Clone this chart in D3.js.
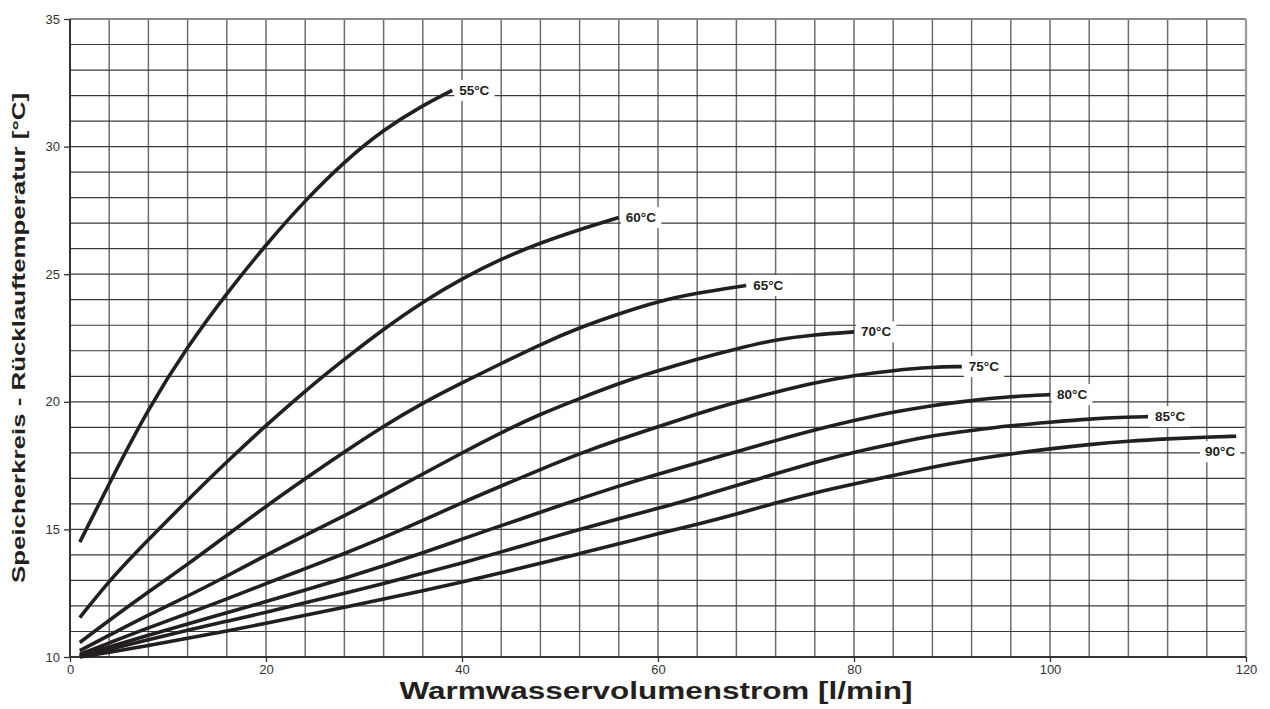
<!DOCTYPE html>
<html>
<head>
<meta charset="utf-8">
<script src="https://cdn.jsdelivr.net/npm/d3@7"></script>
<style>
  html, body { margin: 0; padding: 0; background: #fff; }
  svg { display: block; font-family: "Liberation Sans", Arial, sans-serif; }
</style>
</head>
<body>
<svg id="chart" width="1270" height="709"></svg>
<script>
// ---------------- data ----------------
const xTicks = [0, 20, 40, 60, 80, 100, 120];
const yTicks = [10, 15, 20, 25, 30, 35];
const seriesNames = ["55°C", "60°C", "65°C", "70°C", "75°C", "80°C", "85°C", "90°C"];

const x55 = [1, 4, 8, 12, 16, 20, 24, 28, 32, 36, 39];
const t55 = [14.5, 16.8, 19.75, 22.17, 24.26, 26.16, 27.9, 29.42, 30.67, 31.62, 32.2];

const x60 = [1, 4, 8, 12, 16, 20, 24, 28, 32, 36, 40, 44, 48, 52, 56];
const t60 = [11.54, 13.0, 14.6, 16.15, 17.65, 19.08, 20.43, 21.67, 22.85, 23.92, 24.83, 25.6, 26.23, 26.75, 27.22];

const x65 = [1, 4, 8, 12, 16, 20, 24, 28, 32, 36, 40, 44, 48, 52, 56, 60, 64, 69];
const t65 = [10.57, 11.44, 12.55, 13.63, 14.77, 15.91, 16.99, 18.04, 19.05, 19.96, 20.75, 21.5, 22.25, 22.91, 23.45, 23.94, 24.27, 24.56];

const x70 = [1, 4, 8, 12, 16, 20, 24, 28, 32, 36, 40, 44, 48, 52, 56, 60, 64, 68, 72, 76, 80];
const t70 = [10.25, 10.85, 11.65, 12.38, 13.17, 13.99, 14.77, 15.53, 16.34, 17.17, 18.0, 18.8, 19.52, 20.13, 20.72, 21.22, 21.68, 22.08, 22.44, 22.63, 22.74];

const x75 = [1, 4, 8, 12, 16, 20, 24, 28, 32, 36, 40, 44, 48, 52, 56, 60, 64, 68, 72, 76, 80, 84, 88, 91];
const t75 = [10.1, 10.55, 11.15, 11.7, 12.27, 12.88, 13.46, 14.05, 14.68, 15.35, 16.05, 16.7, 17.35, 17.97, 18.52, 19.02, 19.53, 19.99, 20.38, 20.75, 21.04, 21.23, 21.36, 21.38];

const x80 = [1, 4, 8, 12, 16, 20, 24, 28, 32, 36, 40, 44, 48, 52, 56, 60, 64, 68, 72, 76, 80, 84, 88, 92, 96, 100];
const t80 = [10.05, 10.4, 10.85, 11.3, 11.73, 12.17, 12.62, 13.08, 13.57, 14.08, 14.62, 15.15, 15.67, 16.2, 16.7, 17.17, 17.6, 18.05, 18.48, 18.9, 19.27, 19.6, 19.86, 20.05, 20.21, 20.28];

const x85 = [1, 4, 8, 12, 16, 20, 24, 28, 32, 36, 40, 44, 48, 52, 56, 60, 64, 68, 72, 76, 80, 84, 88, 92, 96, 100, 104, 108, 110];
const t85 = [10.02, 10.3, 10.68, 11.05, 11.4, 11.75, 12.12, 12.5, 12.88, 13.28, 13.68, 14.12, 14.56, 15.0, 15.42, 15.82, 16.26, 16.72, 17.18, 17.63, 18.03, 18.35, 18.68, 18.88, 19.07, 19.2, 19.33, 19.4, 19.42];

const x90 = [1, 4, 8, 12, 16, 20, 24, 28, 32, 36, 40, 44, 48, 52, 56, 60, 64, 68, 72, 76, 80, 84, 88, 92, 96, 100, 104, 108, 112, 116, 119];
const t90 = [10.0, 10.18, 10.45, 10.73, 11.02, 11.32, 11.63, 11.95, 12.27, 12.6, 12.93, 13.3, 13.67, 14.05, 14.43, 14.83, 15.2, 15.6, 16.04, 16.44, 16.78, 17.11, 17.44, 17.73, 17.96, 18.16, 18.33, 18.46, 18.55, 18.62, 18.65];

const xTitle = "Warmwasservolumenstrom [l/min]";
const yTitle = "Speicherkreis - Rücklauftemperatur [°C]";

// ---------------- layout ----------------
const svg = d3.select("#chart");
const margin = { left: 70, right: 24, top: 19, bottom: 52 };
const W = 1270, H = 709;
const x = d3.scaleLinear().domain([0, 120]).range([margin.left, W - margin.right]);
const y = d3.scaleLinear().domain([10, 35]).range([H - margin.bottom, margin.top]);

const series = [
  [x55, t55], [x60, t60], [x65, t65], [x70, t70],
  [x75, t75], [x80, t80], [x85, t85], [x90, t90]
].map(([xs, ts], i) => ({
  name: seriesNames[i],
  points: xs.map((v, j) => ({ x: v, t: ts[j] }))
}));

// grid
const gGrid = svg.append("g");
gGrid.selectAll("line.v").data(d3.range(4, 120, 4)).join("line")
  .attr("x1", d => x(d)).attr("x2", d => x(d))
  .attr("y1", y(10)).attr("y2", y(35))
  .attr("stroke", "#6e6e6e").attr("stroke-width", 1.5);
gGrid.selectAll("line.h").data(d3.range(11, 35, 1)).join("line")
  .attr("x1", x(0)).attr("x2", x(120))
  .attr("y1", d => y(d)).attr("y2", d => y(d))
  .attr("stroke", "#3a3a3a").attr("stroke-width", 1.2);
// frame top/right
svg.append("line").attr("x1", x(0)).attr("x2", x(120)).attr("y1", y(35)).attr("y2", y(35))
  .attr("stroke", "#8a8a8a").attr("stroke-width", 1.8);
svg.append("line").attr("x1", x(120)).attr("x2", x(120)).attr("y1", y(35)).attr("y2", y(10))
  .attr("stroke", "#9a9a9a").attr("stroke-width", 2.2);

// axes
const xAxis = d3.axisBottom(x).tickValues(xTicks).tickSize(5).tickPadding(3).tickFormat(d3.format("d"));
const yAxis = d3.axisLeft(y).tickValues(yTicks).tickSize(6).tickPadding(4).tickFormat(d3.format("d"));
const gx = svg.append("g").attr("transform", `translate(0,${y(10)})`).call(xAxis);
const gy = svg.append("g").attr("transform", `translate(${x(0)},0)`).call(yAxis);
[gx, gy].forEach(g => {
  g.select(".domain").attr("stroke", "#333").attr("stroke-width", 2);
  g.selectAll(".tick line").attr("stroke", "#333").attr("stroke-width", 1.3);
  g.selectAll(".tick text").attr("fill", "#333").attr("font-size", 13)
    .attr("font-family", "'Liberation Sans', Arial, sans-serif");
});
gy.select(".domain").attr("d", `M0,${y(10)}V${y(35)}`);
gx.select(".domain").attr("d", `M${x(0)},0H${x(120)}`);

// curves
const line = d3.line().x(d => x(d.x)).y(d => y(d.t)).curve(d3.curveBasis);
svg.append("g").selectAll("path").data(series).join("path")
  .attr("d", d => line(d.points))
  .attr("fill", "none").attr("stroke", "#231f20").attr("stroke-width", 3.6)
  .attr("stroke-linecap", "butt");

// labels
const gLab = svg.append("g");
series.forEach((s, i) => {
  const last = s.points[s.points.length - 1];
  const px = x(last.x), py = y(last.t);
  const below = i === series.length - 1;
  const g = gLab.append("g");
  const tx = below ? px - 1 : px + 7;
  const ty = below ? py + 20 : py + 4.5;
  const txt = g.append("text")
    .attr("x", tx).attr("y", ty)
    .attr("text-anchor", below ? "end" : "start")
    .attr("font-size", 13.5).attr("font-weight", "bold").attr("fill", "#231f20")
    .text(s.name);
  const bb = txt.node().getBBox();
  g.insert("rect", "text")
    .attr("x", bb.x - 5).attr("y", bb.y - 3)
    .attr("width", bb.width + 10).attr("height", bb.height + 6)
    .attr("fill", "#fff");
});

// titles
svg.append("text")
  .attr("x", (x(0) + x(120)) / 2 - 2).attr("y", 699)
  .attr("text-anchor", "middle")
  .attr("font-size", 23).attr("font-weight", "bold").attr("fill", "#231f20")
  .attr("textLength", 513).attr("lengthAdjust", "spacingAndGlyphs")
  .text(xTitle);
svg.append("text")
  .attr("transform", `translate(25,${(y(10) + y(35)) / 2}) rotate(-90)`)
  .attr("text-anchor", "middle")
  .attr("font-size", 19).attr("font-weight", "bold").attr("fill", "#231f20")
  .attr("textLength", 490).attr("lengthAdjust", "spacingAndGlyphs")
  .text(yTitle);
</script>
</body>
</html>
